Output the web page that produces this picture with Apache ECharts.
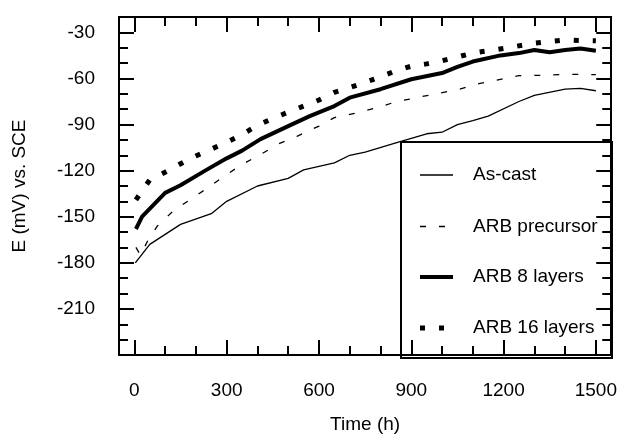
<!DOCTYPE html>
<html>
<head>
<meta charset="utf-8">
<script src="https://cdn.jsdelivr.net/npm/echarts@6/dist/echarts.min.js"></script>
<style>
  html, body { margin: 0; padding: 0; background: #fff; }
  #chart { width: 620px; height: 439px; }
</style>
</head>
<body>
<div id="chart"></div>
<script>
// Open-circuit potential vs. immersion time
const seriesNames = ['As-cast', 'ARB precursor', 'ARB 8 layers', 'ARB 16 layers'];

const timeAsCast = [3, 50, 150, 250, 300, 400, 500, 550, 650, 700, 750, 850, 950, 1000, 1050, 1100, 1150, 1250, 1300, 1400, 1450, 1500];
const eAsCast    = [-180, -168, -155, -148, -140, -130, -125, -119.5, -115, -110, -108, -102, -96, -95, -90, -87.5, -84.5, -75, -71, -67, -66.5, -68];

const timePrecursor = [5, 20, 45, 75, 125, 180, 240, 300, 350, 410, 470, 530, 600, 650, 720, 790, 850, 920, 990, 1050, 1120, 1190, 1250, 1320, 1390, 1460, 1500];
const ePrecursor    = [-170, -175, -165, -156, -146.5, -139, -131, -122.5, -116, -109.5, -102.5, -97.5, -91, -85.5, -82.5, -79, -75.2, -72.4, -69.6, -67.3, -63.4, -60.6, -58.2, -58, -57.4, -57.4, -57.5];

const timeArb8 = [5, 25, 100, 150, 230, 300, 350, 410, 500, 570, 650, 700, 800, 900, 1000, 1050, 1100, 1190, 1250, 1300, 1350, 1400, 1450, 1500];
const eArb8    = [-158, -150, -134.5, -129.5, -120, -112, -107, -99.5, -91, -84.5, -78, -72.5, -67, -60.5, -56.5, -52.5, -49, -45, -43.5, -41.5, -43, -41.5, -40.5, -42];

const timeArb16 = [5, 50, 100, 150, 200, 250, 300, 350, 400, 450, 500, 550, 600, 650, 700, 750, 800, 850, 900, 950, 1000, 1100, 1200, 1300, 1400, 1500];
const eArb16    = [-139, -126, -121, -115.5, -110.5, -106, -101.5, -96.5, -90.5, -86, -82, -78, -74, -69, -66, -62.5, -59, -55, -52, -50.5, -48.5, -43.5, -40.5, -37, -35, -35.5];

// Axis ticks and labels
const xMajor = [0, 300, 600, 900, 1200, 1500];
const xMinor = [0, 100, 200, 300, 400, 500, 600, 700, 800, 900, 1000, 1100, 1200, 1300, 1400, 1500];
const yMajor = [-210, -180, -150, -120, -90, -60, -30];
const yMinor = [-230, -220, -210, -200, -190, -180, -170, -160, -150, -140, -130, -120, -110, -100, -90, -80, -70, -60, -50, -40, -30];

const X_MIN = -50, X_MAX = 1550, Y_MIN = -240, Y_MAX = -20;
const FONT = '"Liberation Sans", Arial, sans-serif';
const FS = 19;

function pairs(xs, ys) { return xs.map((x, i) => [x, ys[i]]); }

function xAxisDef(position, ticks, len, showLine, showLabels) {
  return {
    type: 'value', position, min: X_MIN, max: X_MAX, z: 10,
    axisLine: { show: showLine, onZero: false, lineStyle: { color: '#000', width: 2 } },
    axisTick: { show: true, inside: true, length: len, customValues: ticks, lineStyle: { color: '#000', width: 2 } },
    axisLabel: { show: showLabels, customValues: xMajor, formatter: v => String(v), color: '#000', fontFamily: FONT, fontSize: FS, margin: 26 },
    splitLine: { show: false }
  };
}
function yAxisDef(position, ticks, len, showLine, showLabels) {
  return {
    type: 'value', position, min: Y_MIN, max: Y_MAX, z: 10,
    axisLine: { show: showLine, onZero: false, lineStyle: { color: '#000', width: 2 } },
    axisTick: { show: true, inside: true, length: len, customValues: ticks, lineStyle: { color: '#000', width: 2 } },
    axisLabel: { show: showLabels, customValues: yMajor, formatter: v => String(v), color: '#000', fontFamily: FONT, fontSize: FS, margin: 24 },
    splitLine: { show: false }
  };
}

const xAxes = [
  Object.assign(xAxisDef('bottom', xMajor, 15, true, true), {
    name: 'Time (h)', nameLocation: 'middle', nameGap: 60,
    nameTextStyle: { color: '#000', fontFamily: FONT, fontSize: FS }
  }),
  xAxisDef('bottom', xMinor, 9, false, false),
  xAxisDef('top', xMajor, 15, true, false),
  xAxisDef('top', xMinor, 9, false, false)
];
const yAxes = [
  Object.assign(yAxisDef('left', yMajor, 15, true, true), {
    name: 'E (mV) vs. SCE', nameLocation: 'middle', nameGap: 90,
    nameTextStyle: { color: '#000', fontFamily: FONT, fontSize: FS }
  }),
  yAxisDef('left', yMinor, 9, false, false),
  yAxisDef('right', yMajor, 15, true, false),
  yAxisDef('right', yMinor, 9, false, false)
];

const styles = [
  { width: 1.3, type: 'solid' },
  { width: 1.3, type: [6, 13] },
  { width: 4, type: 'solid' },
  { width: 5, type: [5, 14] }
];
const dataSets = [
  pairs(timeAsCast, eAsCast),
  pairs(timePrecursor, ePrecursor),
  pairs(timeArb8, eArb8),
  pairs(timeArb16, eArb16)
];

const series = seriesNames.map((name, i) => ({
  name, type: 'line', xAxisIndex: 0, yAxisIndex: 0, z: 2,
  data: dataSets[i], showSymbol: false, symbol: 'none', animation: false,
  lineStyle: { color: '#000', width: styles[i].width, type: styles[i].type, cap: 'butt' }
}));

// Legend panel in the lower right corner
const legendBox = { left: 401, top: 142, right: 612, bottom: 358 };
const legendRows = [175, 226.5, 277, 328];
const legendEls = [{
  type: 'rect', z: 5, silent: true,
  shape: { x: legendBox.left, y: legendBox.top, width: legendBox.right - legendBox.left, height: legendBox.bottom - legendBox.top },
  style: { fill: '#fff', stroke: '#000', lineWidth: 2 }
}];
seriesNames.forEach((name, i) => {
  legendEls.push({
    type: 'line', z: 6, silent: true,
    shape: { x1: 420, y1: legendRows[i], x2: 453, y2: legendRows[i] },
    style: { stroke: '#000', lineWidth: styles[i].width, lineDash: Array.isArray(styles[i].type) ? styles[i].type : null, lineCap: 'butt' }
  });
  legendEls.push({
    type: 'text', z: 6, silent: true,
    x: 473, y: legendRows[i],
    style: { text: name, fill: '#000', font: FS + 'px ' + FONT, textVerticalAlign: 'middle', verticalAlign: 'middle' }
  });
});

const chart = echarts.init(document.getElementById('chart'), null, { renderer: 'canvas' });
chart.setOption({
  animation: false,
  backgroundColor: '#fff',
  grid: { left: 119, right: 8, top: 17, bottom: 81, containLabel: false },
  xAxis: xAxes,
  yAxis: yAxes,
  series,
  graphic: { elements: legendEls }
});
</script>
</body>
</html>
